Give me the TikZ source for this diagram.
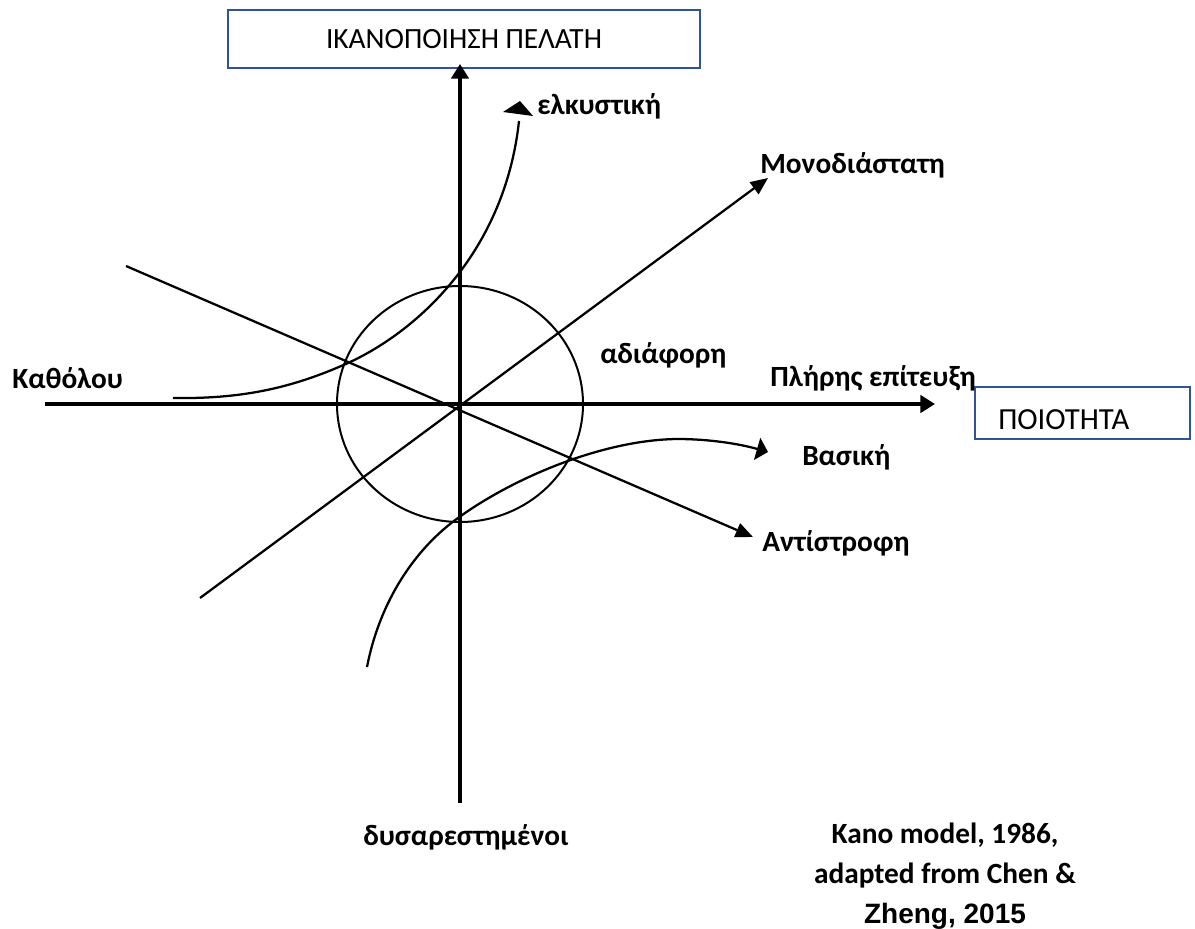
\documentclass[tikz,border=0pt]{standalone}
\usepackage{fontspec}
\setmainfont{Carlito}
\newfontfamily\arialfont{Liberation Sans}
\usetikzlibrary{arrows.meta}
\definecolor{boxblue}{RGB}{47,85,151}
\tikzset{
  x=0.75pt, y=-0.75pt,
  axis/.style={line width=3pt, -{Triangle[length=11pt,width=13pt]}},
  thin/.style={line width=1.7pt},
  thinarrow/.style={thin, -{Triangle[length=13pt,width=11pt]}},
  lbl/.style={font=\bfseries\fontsize{22}{26}\selectfont, inner sep=0pt},
  titlebox/.style={draw=boxblue, line width=1.5pt, minimum height=0pt, inner sep=0pt},
}
\begin{document}
\begin{tikzpicture}
\useasboundingbox (0,0) rectangle (1195,928);

% origin and title boxes
\coordinate (O) at (460,404);
\node[titlebox, minimum width=354pt, minimum height=43.5pt, font=\fontsize{22}{26}\selectfont] (sat) at (464,39) {ΙΚΑΝΟΠΟΙΗΣΗ ΠΕΛΑΤΗ};
\draw[boxblue, line width=1.5pt] (975,387) rectangle (1190,439);
\node[anchor=west, inner sep=0pt, font=\fontsize{23}{26}\selectfont] (qual) at (998,420) {ΠΟΙΟΤΗΤΑ};

% axes
\coordinate (ybot) at (460,803);
\coordinate (ytop) at (460,64);
\coordinate (xleft) at (45,404);
\coordinate (xright) at (935,404);
\draw[axis] (ybot) -- (ytop);
\draw[axis] (xleft) -- (xright);

% indifference region
\draw[line width=1.5pt] (O) ellipse [x radius=123, y radius=118];

% one-dimensional quality
\coordinate (m0) at (200,598);
\coordinate (m1) at (768,178);
\draw[thinarrow] (m0) -- (m1);

% reverse quality
\coordinate (r0) at (126,266);
\coordinate (r1) at (753,537);
\draw[thinarrow] (r0) -- (r1);

% attractive quality
\coordinate (a0) at (173,398);
\coordinate (a1) at (348,363);
\coordinate (a2) at (519,121);
\draw[thin] (a0) .. controls (240,399) and (290,389) .. (a1)
            .. controls (420,330) and (505,250) .. (a2);
\fill (503,112) -- (520,101) -- (533,116) -- cycle;

% must-be quality
\coordinate (b0) at (367,667);
\coordinate (b1) at (458,518);
\coordinate (b2) at (677,439);
\coordinate (b3) at (768,452);
\draw[thin, -{Triangle[length=8.5pt,width=17pt]}] (b0) .. controls (380,600) and (416,548) .. (b1)
            .. controls (510,480) and (600,440) .. (b2)
            .. controls (710,439) and (740,444) .. (b3);

% labels
\node[lbl, anchor=west] (lattr) at (537,106) {ελκυστική};
\node[lbl, anchor=west] (lone) at (760,165) {Μονοδιάστατη};
\node[lbl, anchor=west] (lind) at (600,355) {αδιάφορη};
\node[lbl, anchor=west] (lfull) at (770,378) {Πλήρης επίτευξη};
\node[lbl, anchor=west] (lnone) at (12,378) {Καθόλου};
\node[lbl, anchor=west] (lmust) at (802,457) {Βασική};
\node[lbl, anchor=west] (lrev) at (762,543) {Αντίστροφη};
\node[lbl, anchor=west] (ldis) at (363,837) {δυσαρεστημένοι};
\node[lbl, align=center, font=\bfseries\fontsize{22}{30}\selectfont] (src) at (945,876)
  {Kano model, 1986,\\ adapted from Chen \&\\ {\arialfont\bfseries\fontsize{21}{30}\selectfont Zheng, 2015}};
\end{tikzpicture}
\end{document}
